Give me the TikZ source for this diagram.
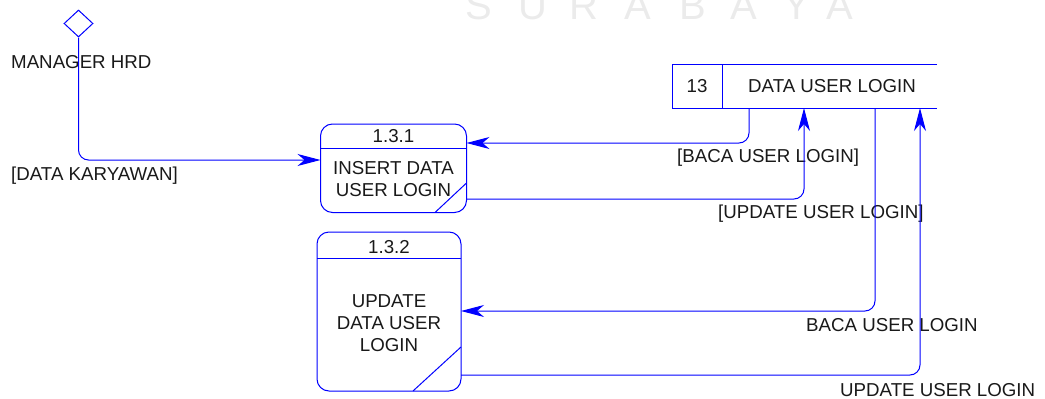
\documentclass[tikz,border=0pt]{standalone}
\usepackage{fontspec}
\setmainfont{Liberation Sans}
\usetikzlibrary{arrows.meta,shapes.geometric}
\tikzset{
  ln/.style={draw=blue, line width=1pt},
  flow/.style={ln, rounded corners=10pt, -{Stealth[length=23pt,width=12pt,inset=7pt]}},
  txt/.style={font=\fontsize{18.7}{22}\selectfont, inner sep=0pt, text=black!90},
  lbl/.style={txt, anchor=west},
  proc/.style={ln, rounded corners=12pt},
}
\begin{document}
\begin{tikzpicture}[x=1pt,y=-1pt]
\useasboundingbox (0,0) rectangle (1045,399);

% faint lettering along the top edge
\begin{scope}
\clip (0,0) rectangle (1045,399);
\foreach \ch/\xx in {S/479,U/533,R/584,A/638,B/693,A/744,Y/797,A/840}
  \node[font=\fontsize{40}{42}\selectfont, text=black!8, inner sep=0pt, anchor=base] at (\xx,19) {\ch};
\end{scope}

% external entity
\node[diamond, draw=blue, line width=1pt, minimum width=29pt, minimum height=27pt, inner sep=0pt] (mgr) at (78.5,23.5) {};
\node[lbl] (mgrlbl) at (11,62) {MANAGER HRD};

% process 1.3.1
\draw[proc] (320.5,124) rectangle (466.5,212.5);
\draw[ln] (320.5,148) -- (466.5,148);
\draw[ln] (435,212.5) -- (466.5,183);
\node[txt] (p1id) at (393.5,136.5) {1.3.1};
\node[txt, align=center] (p1txt) at (393.5,179.5) {INSERT DATA\\USER LOGIN};
\coordinate (p1in) at (320.5,160);
\coordinate (p1r1) at (466.5,143);
\coordinate (p1r2) at (466.5,199);

% process 1.3.2
\draw[proc] (317,232) rectangle (461,391);
\draw[ln] (317,258) -- (461,258);
\draw[ln] (413,391) -- (461,347);
\node[txt] (p2id) at (389,247) {1.3.2};
\node[txt, align=center] (p2txt) at (389,323) {UPDATE\\DATA USER\\ LOGIN};
\coordinate (p2r1) at (461,311);
\coordinate (p2r2) at (461,375);

% data store
\draw[ln] (937,64) -- (672,64) -- (672,108) -- (937,108);
\draw[ln] (722,64) -- (722,108);
\node[txt] (dsid) at (697,86) {13};
\node[txt] (dsname) at (832,86) {DATA USER LOGIN};
\coordinate (ds1) at (749,108);
\coordinate (ds2) at (804,108);
\coordinate (ds3) at (875,108);
\coordinate (ds4) at (920,108);

% flows
\draw[flow] (mgr.south) |- (p1in);
\node[lbl] (f0) at (11,176) {[DATA KARYAWAN]};

\draw[flow] (ds1) |- (p1r1);
\node[lbl] (f1) at (677,158) {[BACA USER LOGIN]};

\draw[flow] (p1r2) -| (ds2);
\node[lbl] (f2) at (718,214) {[UPDATE USER LOGIN]};

\draw[flow] (ds3) |- (p2r1);
\node[lbl] (f3) at (806,325) {BACA USER LOGIN};

\draw[flow] (p2r2) -| (ds4);
\node[lbl] (f4) at (840,390) {UPDATE USER LOGIN};
\end{tikzpicture}
\end{document}
